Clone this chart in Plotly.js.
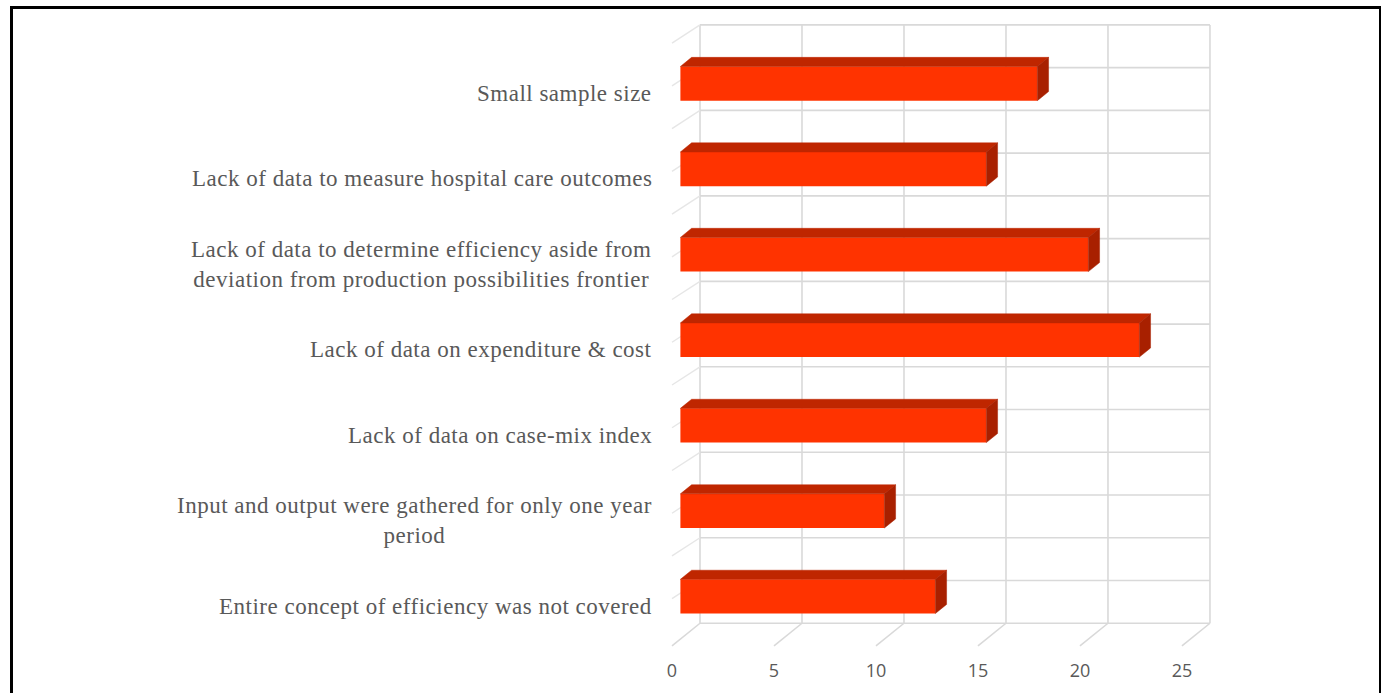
<!DOCTYPE html>
<html>
<head>
<meta charset="utf-8">
<script src="https://cdn.plot.ly/plotly-3.0.1.min.js"></script>
<style>
  html, body { margin: 0; padding: 0; background: #fff; }
  #wrap { position: relative; width: 1381px; height: 693px; overflow: hidden; }
  #chart { position: absolute; left: 0; top: 0; width: 1381px; height: 693px; }
  #frame { position: absolute; left: 10px; top: 6px; width: 1366px; height: 720px;
           border-left: 3px solid #000; border-top: 3px solid #000; border-right: 3px solid #000;
           pointer-events: none; }
  .annotation-text { letter-spacing: 0.5px; }
</style>
</head>
<body>
<div id="wrap">
  <div id="chart"></div>
  <div id="frame"></div>
</div>
<script>
// ---- data ----
const categories = [
  'Small sample size',
  'Lack of data to measure hospital care outcomes',
  'Lack of data to determine efficiency aside from<br>deviation from production possibilities frontier',
  'Lack of data on expenditure & cost',
  'Lack of data on case-mix index',
  'Input and output were gathered for only one year<br>period',
  'Entire concept of efficiency was not covered'
];
const values = [17.5, 15, 20, 22.5, 15, 10, 12.5];
const xTickVals = [0, 5, 10, 15, 20, 25];
const xTickText = ['0', '5', '10', '15', '20', '25'];

// ---- 3D styling constants (depth offset of the back wall, bar depth fractions) ----
const DX = 1.373, DY = -0.266, F1 = 0.30, F2 = 0.70, BW = 0.40;
const XMAX = 25;
const pos = categories.map((c, i) => i);
const N = categories.length;

// grid of the back wall, floor and left wall, drawn below the traces
const gridLine = { color: '#d9d9d9', width: 1.6 };
const shapes = [];
xTickVals.forEach(v => {
  shapes.push({ type: 'line', xref: 'x', yref: 'y', layer: 'below', line: gridLine,
    x0: v + DX, x1: v + DX, y0: -0.5 + DY, y1: N - 0.5 + DY });
  shapes.push({ type: 'line', xref: 'x', yref: 'y', layer: 'below', line: gridLine,
    x0: v + DX, x1: v, y0: N - 0.5 + DY, y1: N - 0.5 });
});
for (let j = 0; j <= 2 * N; j++) {
  const yy = -0.5 + j * 0.5 + DY;
  shapes.push({ type: 'line', xref: 'x', yref: 'y', layer: 'below', line: gridLine,
    x0: DX, x1: XMAX + DX, y0: yy, y1: yy });
  if (j < 2 * N) {
    shapes.push({ type: 'line', xref: 'x', yref: 'y', layer: 'below',
      line: { color: '#e6e6e6', width: 1.4 },
      x0: DX, x1: 0, y0: yy, y1: yy - DY * 0.8 });
  }
}

// top and side faces of the bars
const tx = [], ty = [], sx = [], sy = [];
pos.forEach((p, i) => {
  const v = values[i];
  const yTop1 = p + F1 * DY - BW / 2, yTop2 = p + F2 * DY - BW / 2;
  const yBot1 = p + F1 * DY + BW / 2, yBot2 = p + F2 * DY + BW / 2;
  tx.push(F1 * DX, v + F1 * DX, v + F2 * DX, F2 * DX, F1 * DX, null);
  ty.push(yTop1, yTop1, yTop2, yTop2, yTop1, null);
  sx.push(v + F1 * DX, v + F1 * DX, v + F2 * DX, v + F2 * DX, v + F1 * DX, null);
  sy.push(yTop1, yBot1, yBot2, yTop2, yTop1, null);
});

const traces = [
  { type: 'bar', orientation: 'h', y: pos, x: values, base: F1 * DX,
    width: BW, offset: F1 * DY - BW / 2,
    marker: { color: '#ff3300', line: { width: 0 } },
    hovertext: categories, hoverinfo: 'x+text', showlegend: false },
  { type: 'scatter', mode: 'lines', x: tx, y: ty, fill: 'toself', fillcolor: '#bf2600',
    line: { color: '#bf2600', width: 0.5 }, hoverinfo: 'skip', showlegend: false },
  { type: 'scatter', mode: 'lines', x: sx, y: sy, fill: 'toself', fillcolor: '#a82000',
    line: { color: '#a82000', width: 0.5 }, hoverinfo: 'skip', showlegend: false }
];

const annotations = categories.map((c, i) => ({
  text: c, xref: 'paper', yref: 'y', x: 0, y: i, xanchor: 'right', yanchor: 'middle',
  xshift: -6, yshift: -3, align: 'center', showarrow: false,
  font: { family: '"Liberation Serif", "Times New Roman", serif', size: 23, color: '#595959' }
}));

const layout = {
  width: 1381, height: 693,
  margin: { l: 660, r: 166, t: 22, b: 43 },
  paper_bgcolor: '#ffffff', plot_bgcolor: '#ffffff',
  showlegend: false,
  xaxis: {
    range: [-0.588, 26.62], tickvals: xTickVals, ticktext: xTickText,
    showgrid: false, zeroline: false, showline: false, ticks: '',
    ticklabelstandoff: 8,
    tickfont: { family: '"Open Sans", "Liberation Sans", sans-serif', size: 18, color: '#595959' },
    fixedrange: true
  },
  yaxis: {
    range: [6.547, -0.80], showticklabels: false, showgrid: false, zeroline: false,
    showline: false, ticks: '', fixedrange: true
  },
  shapes: shapes,
  annotations: annotations
};

Plotly.newPlot('chart', traces, layout, { displayModeBar: false });
</script>
</body>
</html>
